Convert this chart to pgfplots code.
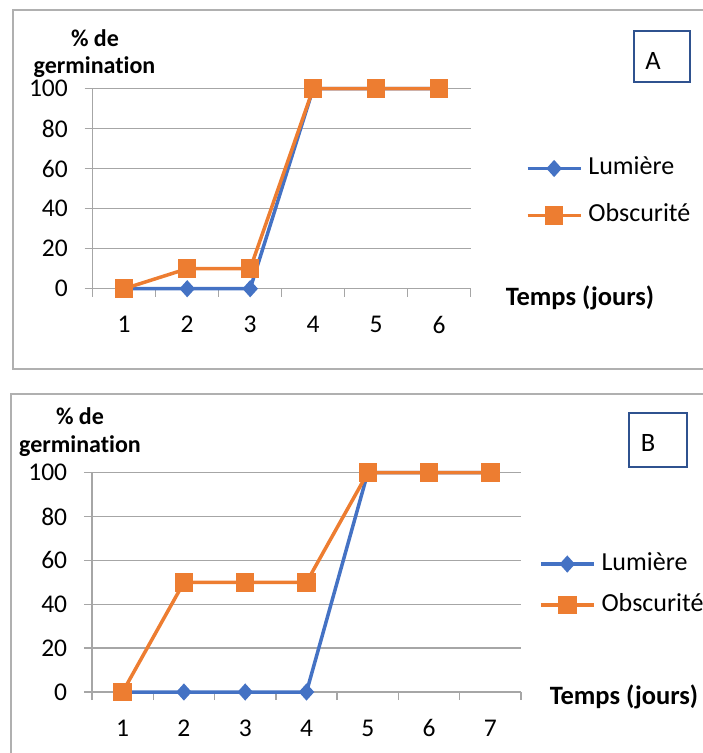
\documentclass[border=0pt]{standalone}
\usepackage{fontspec}
\setmainfont{Carlito}[Ligatures={NoCommon,NoContextual}]
\usepackage{pgfplots}
\pgfplotsset{compat=1.18}
\definecolor{xlblue}{HTML}{4472C4}
\definecolor{xlorange}{HTML}{ED7D31}
\definecolor{axgray}{HTML}{A6A6A6}
\definecolor{boxgray}{HTML}{B0B0B0}
\definecolor{lblblue}{HTML}{2F528F}
\newcommand{\fs}{\fontsize{26.5}{31}\selectfont}
\newcommand{\fl}{\fontsize{26}{31}\selectfont}
\newcommand{\ft}{\fontsize{25.5}{30}\selectfont}
\pgfplotsset{
  mychart/.style={
    scale only axis, clip=false,
    axis x line=bottom, axis y line=left,
    axis line style={-, axgray, line width=1.3pt},
    ymin=0, ymax=100, ytick={0,20,...,100},
    ymajorgrids, major grid style={axgray, line width=1.3pt},
    tick align=outside,
    major tick length=8pt, minor tick length=8pt,
    major x tick style={draw=none},
    minor x tick style={axgray, line width=1.3pt},
    ytick style={axgray, line width=1.3pt},
    /pgf/number format/assume math mode=true,
    tick label style={font=\ft},
    xticklabel style={anchor=center, yshift=-28pt},
    yticklabel style={anchor=east, inner sep=0pt, xshift=-16.7pt},
    legend cell align=left,
    legend style={draw=none, fill=none, anchor=west, column sep=6pt,
      inner sep=0pt, outer sep=0pt,
      nodes={inner sep=0pt, text height=18pt, text depth=5pt, font=\fl}},
    legend image code/.code={\draw[mark repeat=2, mark phase=2, #1] plot coordinates {(0pt,0pt) (26.5pt,0pt) (53pt,0pt)};},
  },
  lum/.style={xlblue, line width=3.5pt, mark=diamond*, mark size=6pt,
    mark options={solid, fill=xlblue, draw=none, xscale=1.2}},
  obs/.style={xlorange, line width=3.5pt, mark=square*, mark size=7.5pt,
    mark options={solid, fill=xlorange, draw=none}},
}
\begin{document}
\begin{tikzpicture}
\useasboundingbox (0pt,0pt) rectangle (703pt,753pt);
% outer frames
\draw[boxgray, line width=1.6pt] (720pt,743pt) -- (12.7pt,743pt) -- (12.7pt,384pt) -- (720pt,384pt);
\draw[boxgray, line width=1.6pt] (720pt,359pt) -- (11pt,359pt) -- (11pt,-20pt);

% Chart A
\begin{axis}[mychart, at={(92.7pt,464.3pt)}, anchor=south west,
  width=378pt, height=200pt,
  xmin=0.5, xmax=6.5, xtick={1,...,6}, minor xtick={0.5,1.5,...,6.5},
  legend style={at={(1.146,0.4835)}, row sep=24pt}]
\addplot[lum] coordinates {(1,0) (2,0) (3,0) (4,100) (5,100) (6,100)};
\addlegendentry{Lumière}
\addplot[obs] coordinates {(1,0) (2,10) (3,10) (4,100) (5,100) (6,100)};
\addlegendentry{Obscurité}
\end{axis}
\node[anchor=base, font=\fontsize{24}{28}\selectfont\bfseries] at (95pt,706pt) {\% de};
\node[anchor=base, font=\fontsize{24}{28}\selectfont\bfseries] at (94.5pt,679pt) {germination};
\node[anchor=base, font=\fs\bfseries] at (580pt,447pt) {Temps (jours)};
\draw[lblblue, line width=1.6pt] (634pt,722pt) rectangle (690pt,671pt);
\node[anchor=base, font=\fs] at (653pt,683pt) {A};

% Chart B
\begin{axis}[mychart, at={(92pt,61pt)}, anchor=south west,
  width=429pt, height=219.3pt,
  xmin=0.5, xmax=7.5, xtick={1,...,7}, minor xtick={0.5,1.5,...,7.5},
  legend style={at={(1.042,0.490)}, row sep=18pt}]
\addplot[lum] coordinates {(1,0) (2,0) (3,0) (4,0) (5,100) (6,100) (7,100)};
\addlegendentry{Lumière}
\addplot[obs] coordinates {(1,0) (2,50) (3,50) (4,50) (5,100) (6,100) (7,100)};
\addlegendentry{Obscurité}
\end{axis}
\node[anchor=base, font=\fontsize{24}{28}\selectfont\bfseries] at (80pt,328pt) {\% de};
\node[anchor=base, font=\fontsize{24}{28}\selectfont\bfseries] at (80pt,300pt) {germination};
\node[anchor=base, font=\fs\bfseries] at (624pt,48pt) {Temps (jours)};
\draw[lblblue, line width=1.6pt] (629pt,340pt) rectangle (687pt,286pt);
\node[anchor=base, font=\fs] at (648pt,301pt) {B};
\end{tikzpicture}
\end{document}
